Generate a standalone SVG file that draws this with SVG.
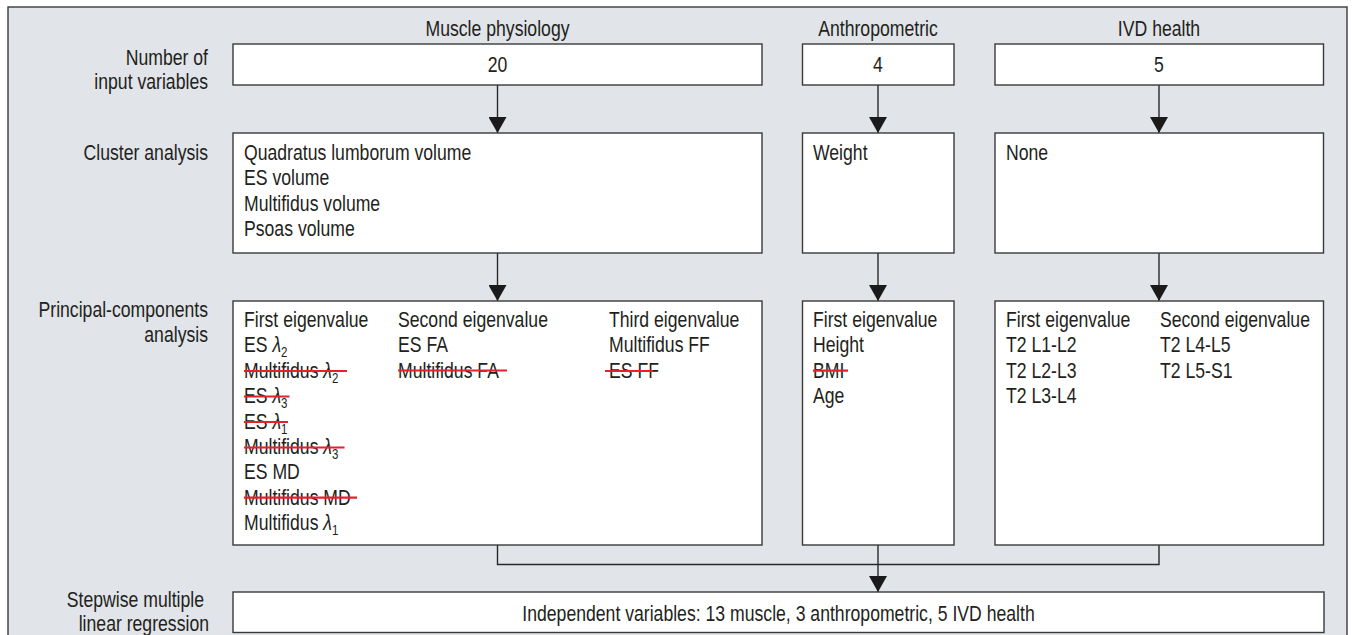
<svg xmlns="http://www.w3.org/2000/svg" width="1355" height="635" viewBox="0 0 1355 635">
<style>
text{font-family:"Liberation Sans",Arial,sans-serif;font-size:21.5px;fill:#231f20}
.c{text-anchor:middle}
.r{text-anchor:end}
.box{fill:#fff;stroke:#3a3a3a;stroke-width:1.4}
.ln{fill:none;stroke:#2a2a2a;stroke-width:1.4}
.st{stroke:#e8202a;stroke-width:2.2}
.l{font-style:italic}
.s{font-size:14px}
</style>
<defs>
<marker id="ah" markerWidth="16" markerHeight="18" viewBox="0 0 16 18" refX="16" refY="9" orient="auto" markerUnits="userSpaceOnUse">
<path d="M0,0 L16,9 L0,18 Z" fill="#1a1a1a"/>
</marker>
</defs>
<rect x="8" y="7" width="1339" height="632" fill="#e1e4e8" stroke="#3a3a3a" stroke-width="1.4"/>
<g id="headers">
<text class="c" transform="translate(497.5,36) scale(.82 1)">Muscle physiology</text>
<text class="c" transform="translate(878,36) scale(.82 1)">Anthropometric</text>
<text class="c" transform="translate(1159,36) scale(.82 1)">IVD health</text>
</g>
<g id="row-labels">
<text class="r" transform="translate(208,65) scale(.82 1)">Number of</text>
<text class="r" transform="translate(208,89) scale(.82 1)">input variables</text>
<text class="r" transform="translate(208,160) scale(.82 1)">Cluster analysis</text>
<text class="r" transform="translate(208,317) scale(.82 1)">Principal-components</text>
<text class="r" transform="translate(208,342) scale(.82 1)">analysis</text>
<text class="r" transform="translate(204,607) scale(.82 1)">Stepwise multiple</text>
<text class="r" transform="translate(209,631) scale(.82 1)">linear regression</text>
</g>
<g id="connectors">
<line class="ln" x1="497.5" y1="85" x2="497.5" y2="133" marker-end="url(#ah)"/>
<line class="ln" x1="878" y1="85" x2="878" y2="133" marker-end="url(#ah)"/>
<line class="ln" x1="1159" y1="85" x2="1159" y2="133" marker-end="url(#ah)"/>
<line class="ln" x1="497.5" y1="253" x2="497.5" y2="301" marker-end="url(#ah)"/>
<line class="ln" x1="878" y1="253" x2="878" y2="301" marker-end="url(#ah)"/>
<line class="ln" x1="1159" y1="253" x2="1159" y2="301" marker-end="url(#ah)"/>
<polyline class="ln" points="497.5,545 497.5,564.5 1159,564.5 1159,545"/>
<line class="ln" x1="878" y1="545" x2="878" y2="592" marker-end="url(#ah)"/>
</g>
<g id="muscle-input">
<rect class="box" x="233" y="44" width="529" height="41"/>
<text class="c" transform="translate(497.5,72) scale(.82 1)">20</text>
</g>
<g id="anthro-input">
<rect class="box" x="802.5" y="44" width="151.5" height="41"/>
<text class="c" transform="translate(878,72) scale(.82 1)">4</text>
</g>
<g id="ivd-input">
<rect class="box" x="995" y="44" width="328.5" height="41"/>
<text class="c" transform="translate(1159,72) scale(.82 1)">5</text>
</g>
<g id="muscle-cluster">
<rect class="box" x="233" y="133" width="529" height="120"/>
<text transform="translate(244,160) scale(.82 1)">Quadratus lumborum volume</text>
<text transform="translate(244,185.4) scale(.82 1)">ES volume</text>
<text transform="translate(244,210.8) scale(.82 1)">Multifidus volume</text>
<text transform="translate(244,236.2) scale(.82 1)">Psoas volume</text>
</g>
<g id="anthro-cluster">
<rect class="box" x="802.5" y="133" width="151.5" height="120"/>
<text transform="translate(813,160) scale(.82 1)">Weight</text>
</g>
<g id="ivd-cluster">
<rect class="box" x="995" y="133" width="328.5" height="120"/>
<text transform="translate(1006,160) scale(.82 1)">None</text>
</g>
<g id="muscle-pca">
<rect class="box" x="233" y="301" width="529" height="244"/>
<text transform="translate(244,327) scale(.82 1)">First eigenvalue</text>
<text transform="translate(244,352.4) scale(.82 1)">ES <tspan class="l">λ</tspan><tspan class="s" dy="5">2</tspan></text>
<text transform="translate(244,377.8) scale(.82 1)">Multifidus <tspan class="l">λ</tspan><tspan class="s" dy="5">2</tspan></text>
<text transform="translate(244,403.2) scale(.82 1)">ES <tspan class="l">λ</tspan><tspan class="s" dy="5">3</tspan></text>
<text transform="translate(244,428.6) scale(.82 1)">ES <tspan class="l">λ</tspan><tspan class="s" dy="5">1</tspan></text>
<text transform="translate(244,454) scale(.82 1)">Multifidus <tspan class="l">λ</tspan><tspan class="s" dy="5">3</tspan></text>
<text transform="translate(244,479.4) scale(.82 1)">ES MD</text>
<text transform="translate(244,504.8) scale(.82 1)">Multifidus MD</text>
<text transform="translate(244,530.2) scale(.82 1)">Multifidus <tspan class="l">λ</tspan><tspan class="s" dy="5">1</tspan></text>
<text transform="translate(398,327) scale(.82 1)">Second eigenvalue</text>
<text transform="translate(398,352.4) scale(.82 1)">ES FA</text>
<text transform="translate(398,377.8) scale(.82 1)">Multifidus FA</text>
<text transform="translate(609,327) scale(.82 1)">Third eigenvalue</text>
<text transform="translate(609,352.4) scale(.82 1)">Multifidus FF</text>
<text transform="translate(609,377.8) scale(.82 1)">ES FF</text>
<line class="st" x1="244" y1="371" x2="347" y2="371"/>
<line class="st" x1="244" y1="396.5" x2="289.5" y2="396.5"/>
<line class="st" x1="244" y1="422" x2="288" y2="422"/>
<line class="st" x1="244" y1="447.5" x2="344.5" y2="447.5"/>
<line class="st" x1="244" y1="497.7" x2="357" y2="497.7"/>
<line class="st" x1="398" y1="370.5" x2="507" y2="370.5"/>
<line class="st" x1="605" y1="371" x2="653" y2="371"/>
</g>
<g id="anthro-pca">
<rect class="box" x="802.5" y="301" width="151.5" height="244"/>
<text transform="translate(813,327) scale(.82 1)">First eigenvalue</text>
<text transform="translate(813,352.4) scale(.82 1)">Height</text>
<text transform="translate(813,377.8) scale(.82 1)">BMI</text>
<text transform="translate(813,403.2) scale(.82 1)">Age</text>
<line class="st" x1="813" y1="370.7" x2="848" y2="370.7"/>
</g>
<g id="ivd-pca">
<rect class="box" x="995" y="301" width="328.5" height="244"/>
<text transform="translate(1006,327) scale(.82 1)">First eigenvalue</text>
<text transform="translate(1006,352.4) scale(.82 1)">T2 L1-L2</text>
<text transform="translate(1006,377.8) scale(.82 1)">T2 L2-L3</text>
<text transform="translate(1006,403.2) scale(.82 1)">T2 L3-L4</text>
<text transform="translate(1160,327) scale(.82 1)">Second eigenvalue</text>
<text transform="translate(1160,352.4) scale(.82 1)">T2 L4-L5</text>
<text transform="translate(1160,377.8) scale(.82 1)">T2 L5-S1</text>
</g>
<g id="regression">
<rect class="box" x="233" y="592" width="1091" height="40.5"/>
<text class="c" transform="translate(778.5,621) scale(.82 1)">Independent variables: 13 muscle, 3 anthropometric, 5 IVD health</text>
</g>
</svg>
